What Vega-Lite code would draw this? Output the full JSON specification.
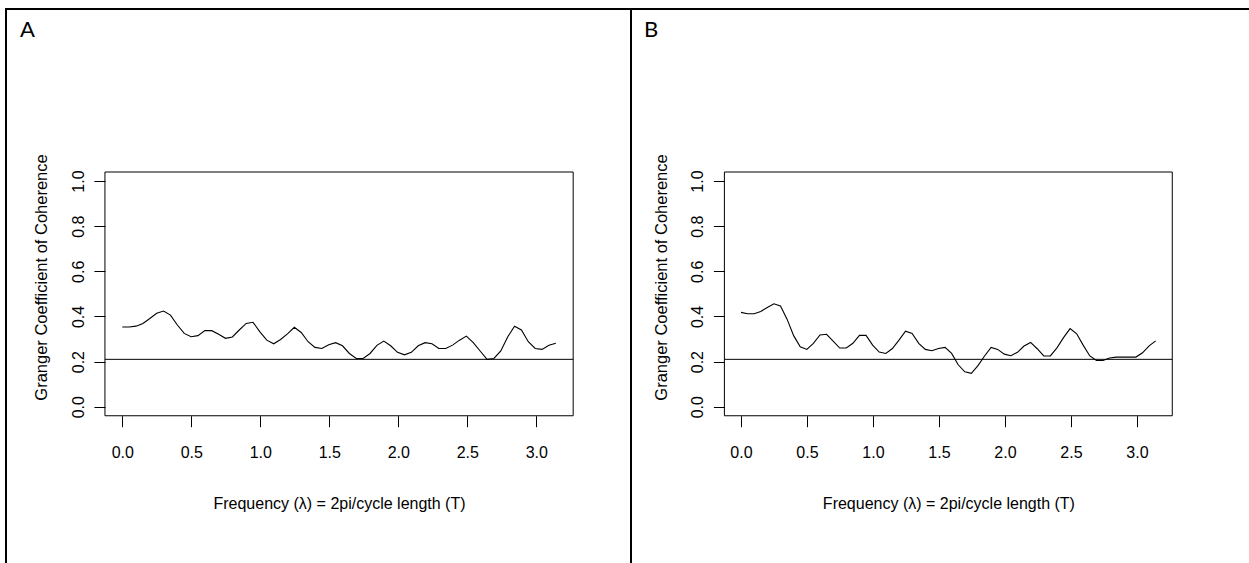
{
  "$schema": "https://vega.github.io/schema/vega-lite/v6.json",
  "background": "white",
  "padding": {"left": 5, "top": 8, "right": 0, "bottom": 0},
  "config": {
    "view": {"stroke": "black", "strokeWidth": 2},
    "axis": {"grid": false, "domain": false, "tickColor": "black", "tickWidth": 1, "tickSize": 11, "labelColor": "black", "labelFont": "Liberation Sans", "labelFontSize": 16, "titleFont": "Liberation Sans", "titleFontSize": 16, "titleFontWeight": "normal", "titleColor": "black", "labelOverlap": false, "labelFlush": false}
  },
  "datasets": {
    "a": [
      {"f": 0, "c": 0.353}, {"f": 0.0499, "c": 0.353}, {"f": 0.0997, "c": 0.357}, {"f": 0.1496, "c": 0.369}, {"f": 0.1995, "c": 0.391}, {"f": 0.2493, "c": 0.414}, {"f": 0.2992, "c": 0.424}, {"f": 0.3491, "c": 0.406}, {"f": 0.3989, "c": 0.362}, {"f": 0.4488, "c": 0.325}, {"f": 0.4987, "c": 0.310}, {"f": 0.5485, "c": 0.315}, {"f": 0.5984, "c": 0.337}, {"f": 0.6483, "c": 0.337}, {"f": 0.6981, "c": 0.321}, {"f": 0.748, "c": 0.303}, {"f": 0.7979, "c": 0.309}, {"f": 0.8477, "c": 0.340}, {"f": 0.8976, "c": 0.369}, {"f": 0.9475, "c": 0.374}, {"f": 0.9973, "c": 0.332}, {"f": 1.0472, "c": 0.295}, {"f": 1.0971, "c": 0.279}, {"f": 1.1469, "c": 0.298}, {"f": 1.1968, "c": 0.323}, {"f": 1.2467, "c": 0.352}, {"f": 1.2965, "c": 0.329}, {"f": 1.3464, "c": 0.288}, {"f": 1.3963, "c": 0.263}, {"f": 1.4461, "c": 0.258}, {"f": 1.496, "c": 0.275}, {"f": 1.5459, "c": 0.284}, {"f": 1.5957, "c": 0.270}, {"f": 1.6456, "c": 0.236}, {"f": 1.6955, "c": 0.214}, {"f": 1.7453, "c": 0.214}, {"f": 1.7952, "c": 0.236}, {"f": 1.8451, "c": 0.272}, {"f": 1.8949, "c": 0.291}, {"f": 1.9448, "c": 0.270}, {"f": 1.9947, "c": 0.241}, {"f": 2.0445, "c": 0.230}, {"f": 2.0944, "c": 0.241}, {"f": 2.1443, "c": 0.270}, {"f": 2.1941, "c": 0.284}, {"f": 2.244, "c": 0.279}, {"f": 2.2939, "c": 0.258}, {"f": 2.3437, "c": 0.258}, {"f": 2.3936, "c": 0.273}, {"f": 2.4435, "c": 0.295}, {"f": 2.4933, "c": 0.313}, {"f": 2.5432, "c": 0.284}, {"f": 2.5931, "c": 0.247}, {"f": 2.6429, "c": 0.210}, {"f": 2.6928, "c": 0.214}, {"f": 2.7427, "c": 0.247}, {"f": 2.7925, "c": 0.309}, {"f": 2.8424, "c": 0.357}, {"f": 2.8923, "c": 0.340}, {"f": 2.9421, "c": 0.288}, {"f": 2.992, "c": 0.258}, {"f": 3.0419, "c": 0.254}, {"f": 3.0917, "c": 0.272}, {"f": 3.1416, "c": 0.281}
    ],
    "b": [
      {"f": 0, "c": 0.418}, {"f": 0.0499, "c": 0.412}, {"f": 0.0997, "c": 0.412}, {"f": 0.1496, "c": 0.422}, {"f": 0.1995, "c": 0.440}, {"f": 0.2493, "c": 0.456}, {"f": 0.2992, "c": 0.446}, {"f": 0.3491, "c": 0.388}, {"f": 0.3989, "c": 0.315}, {"f": 0.4488, "c": 0.266}, {"f": 0.4987, "c": 0.254}, {"f": 0.5485, "c": 0.281}, {"f": 0.5984, "c": 0.318}, {"f": 0.6483, "c": 0.321}, {"f": 0.6981, "c": 0.291}, {"f": 0.748, "c": 0.260}, {"f": 0.7979, "c": 0.260}, {"f": 0.8477, "c": 0.281}, {"f": 0.8976, "c": 0.316}, {"f": 0.9475, "c": 0.316}, {"f": 0.9973, "c": 0.273}, {"f": 1.0472, "c": 0.242}, {"f": 1.0971, "c": 0.236}, {"f": 1.1469, "c": 0.258}, {"f": 1.1968, "c": 0.295}, {"f": 1.2467, "c": 0.335}, {"f": 1.2965, "c": 0.325}, {"f": 1.3464, "c": 0.281}, {"f": 1.3963, "c": 0.254}, {"f": 1.4461, "c": 0.248}, {"f": 1.496, "c": 0.258}, {"f": 1.5459, "c": 0.263}, {"f": 1.5957, "c": 0.236}, {"f": 1.6456, "c": 0.186}, {"f": 1.6955, "c": 0.155}, {"f": 1.7453, "c": 0.148}, {"f": 1.7952, "c": 0.182}, {"f": 1.8451, "c": 0.225}, {"f": 1.8949, "c": 0.263}, {"f": 1.9448, "c": 0.254}, {"f": 1.9947, "c": 0.233}, {"f": 2.0445, "c": 0.226}, {"f": 2.0944, "c": 0.241}, {"f": 2.1443, "c": 0.269}, {"f": 2.1941, "c": 0.285}, {"f": 2.244, "c": 0.257}, {"f": 2.2939, "c": 0.225}, {"f": 2.3437, "c": 0.225}, {"f": 2.3936, "c": 0.261}, {"f": 2.4435, "c": 0.306}, {"f": 2.4933, "c": 0.346}, {"f": 2.5432, "c": 0.323}, {"f": 2.5931, "c": 0.272}, {"f": 2.6429, "c": 0.225}, {"f": 2.6928, "c": 0.205}, {"f": 2.7427, "c": 0.205}, {"f": 2.7925, "c": 0.216}, {"f": 2.8424, "c": 0.220}, {"f": 2.8923, "c": 0.220}, {"f": 2.9421, "c": 0.220}, {"f": 2.992, "c": 0.220}, {"f": 3.0419, "c": 0.239}, {"f": 3.0917, "c": 0.270}, {"f": 3.1416, "c": 0.292}
    ]
  },
  "hconcat": [
    {
      "width": 625,
      "height": 556,
      "layer": [
        {
          "data": {"name": "a"},
          "mark": {"type": "line", "stroke": "black", "strokeWidth": 1.1},
          "encoding": {
            "x": {"field": "f", "type": "quantitative", "scale": {"domain": [-0.8427, 3.6863], "nice": false, "zero": false},
              "axis": {"values": [0, 0.5, 1, 1.5, 2, 2.5, 3], "format": ".1f", "offset": -149.3, "labelBaseline": "alphabetic", "labelAlign": "center", "labelPadding": 30.3, "title": "Frequency (λ) = 2pi/cycle length (T)", "titleX": 333, "titleY": 92.3, "titleBaseline": "alphabetic", "titleAlign": "center", "titleAngle": 0}},
            "y": {"field": "c", "type": "quantitative", "scale": {"domain": [-0.7012, 1.7622], "nice": false, "zero": false},
              "axis": {"values": [0, 0.2, 0.4, 0.6, 0.8, 1], "format": ".1f", "offset": -98.95, "labelAngle": -90, "labelAlign": "center", "labelBaseline": "alphabetic", "labelPadding": 10.95, "title": "Granger Coefficient of Coherence", "titleFontSize": 16.5, "titleAngle": -90, "titleX": -58, "titleY": 268, "titleBaseline": "alphabetic", "titleAlign": "center"}}
          }
        },
        {
          "data": {"values": [{}]},
          "mark": {"type": "rect", "fill": null, "stroke": "black", "strokeWidth": 1},
          "encoding": {
            "x": {"datum": -0.1257, "type": "quantitative"},
            "x2": {"datum": 3.2673},
            "y": {"datum": -0.04, "type": "quantitative"},
            "y2": {"datum": 1.04}
          }
        },
        {
          "data": {"values": [{}]},
          "mark": {"type": "rule", "stroke": "black", "strokeWidth": 1},
          "encoding": {
            "x": {"datum": -0.1257, "type": "quantitative"},
            "x2": {"datum": 3.2673},
            "y": {"datum": 0.21, "type": "quantitative"}
          }
        },
        {
          "data": {"values": [{"label": "A"}]},
          "mark": {"type": "text", "font": "Lato", "fontSize": 22, "align": "left", "baseline": "alphabetic", "color": "black"},
          "encoding": {
            "x": {"datum": -0.7413, "type": "quantitative"},
            "y": {"datum": 1.6381, "type": "quantitative"},
            "text": {"field": "label"}
          }
        }
      ]
    },
    {
      "width": 620,
      "height": 556,
      "layer": [
        {
          "data": {"name": "b"},
          "mark": {"type": "line", "stroke": "black", "strokeWidth": 1.1},
          "encoding": {
            "x": {"field": "f", "type": "quantitative", "scale": {"domain": [-0.8333, 3.8637], "nice": false, "zero": false},
              "axis": {"values": [0, 0.5, 1, 1.5, 2, 2.5, 3], "format": ".1f", "offset": -149.3, "labelBaseline": "alphabetic", "labelAlign": "center", "labelPadding": 30.3, "title": "Frequency (λ) = 2pi/cycle length (T)", "titleX": 317.4, "titleY": 92.3, "titleBaseline": "alphabetic", "titleAlign": "center", "titleAngle": 0}},
            "y": {"field": "c", "type": "quantitative", "scale": {"domain": [-0.7012, 1.7622], "nice": false, "zero": false},
              "axis": {"values": [0, 0.2, 0.4, 0.6, 0.8, 1], "format": ".1f", "offset": -93.4, "labelAngle": -90, "labelAlign": "center", "labelBaseline": "alphabetic", "labelPadding": 10.95, "title": "Granger Coefficient of Coherence", "titleFontSize": 16.5, "titleAngle": -90, "titleX": -58, "titleY": 268, "titleBaseline": "alphabetic", "titleAlign": "center"}}
          }
        },
        {
          "data": {"values": [{}]},
          "mark": {"type": "rect", "fill": null, "stroke": "black", "strokeWidth": 1},
          "encoding": {
            "x": {"datum": -0.1257, "type": "quantitative"},
            "x2": {"datum": 3.2673},
            "y": {"datum": -0.04, "type": "quantitative"},
            "y2": {"datum": 1.04}
          }
        },
        {
          "data": {"values": [{}]},
          "mark": {"type": "rule", "stroke": "black", "strokeWidth": 1},
          "encoding": {
            "x": {"datum": -0.1257, "type": "quantitative"},
            "x2": {"datum": 3.2673},
            "y": {"datum": 0.21, "type": "quantitative"}
          }
        },
        {
          "data": {"values": [{"label": "B"}]},
          "mark": {"type": "text", "font": "Lato", "fontSize": 22, "align": "left", "baseline": "alphabetic", "color": "black"},
          "encoding": {
            "x": {"datum": -0.7348, "type": "quantitative"},
            "y": {"datum": 1.6381, "type": "quantitative"},
            "text": {"field": "label"}
          }
        }
      ]
    }
  ],
  "spacing": 0,
  "bounds": "flush"
}
